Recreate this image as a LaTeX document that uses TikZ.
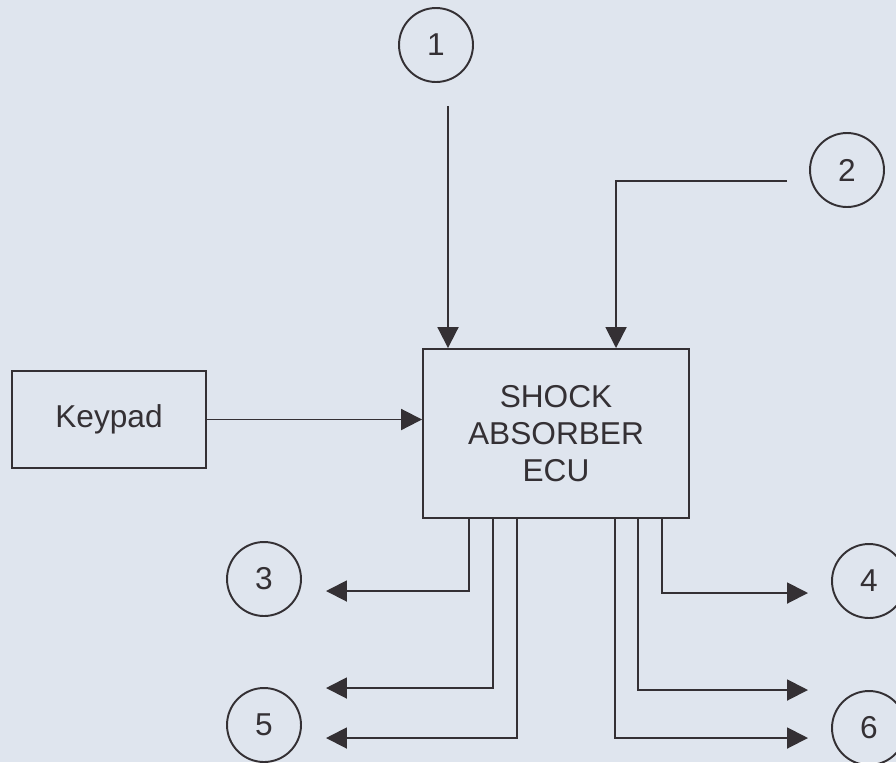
\documentclass[tikz,border=0pt]{standalone}
\usepackage{fontspec}
\setmainfont{Liberation Sans}
\usetikzlibrary{arrows.meta}
\definecolor{paper}{RGB}{223,229,238}
\definecolor{ink}{RGB}{52,48,52}

\begin{document}
\begin{tikzpicture}[
  x=0.02cm, y=-0.02cm,
  font=\fontsize{18}{21}\selectfont, text=ink,
  >={Triangle[length=4.2mm, width=4.2mm]},
  b/.style={draw=ink, line width=1.1pt, align=center, inner sep=0pt},
  blk/.style={b, minimum width=3.88cm, minimum height=1.94cm},
  ecubox/.style={b, minimum width=5.32cm, minimum height=3.38cm},
  num/.style={b, circle, minimum size=1.48cm},
  a/.style={->, line width=1.1pt, draw=ink},
]
\fill[paper] (0,0) rectangle (896,762);
\clip (0,0) rectangle (896,762);
\node[ecubox] (ecu) at (556,433.5) {SHOCK\\ABSORBER\\ECU};
\node[blk] (keypad) at (109,419.5) {Keypad};
\node[num] (n1) at (436,45) {1};
\node[num] (n2) at (847,170) {2};
\node[num] (n3) at (264,579) {3};
\node[num] (n4) at (869,581) {4};
\node[num] (n5) at (264,725) {5};
\node[num] (n6) at (869,728) {6};
\coordinate (s1) at (448,106);
\coordinate (s2) at (787,181);
\coordinate (t3) at (326,591);
\coordinate (t5a) at (326,688);
\coordinate (t5b) at (326,738);
\coordinate (t4) at (808,593);
\coordinate (t6a) at (808,690);
\coordinate (t6b) at (808,738);
\draw[a] (s1) -- (s1 |- ecu.north);
\draw[a] (s2) -| ([xshift=3.88cm]ecu.north west);
\draw[a] (keypad.east) -- (keypad.east -| ecu.west);
\draw[a] ([xshift=0.94cm]ecu.south west) |- (t3);
\draw[a] ([xshift=1.42cm]ecu.south west) |- (t5a);
\draw[a] ([xshift=1.90cm]ecu.south west) |- (t5b);
\draw[a] ([xshift=4.80cm]ecu.south west) |- (t4);
\draw[a] ([xshift=4.32cm]ecu.south west) |- (t6a);
\draw[a] ([xshift=3.86cm]ecu.south west) |- (t6b);
\end{tikzpicture}
\end{document}
